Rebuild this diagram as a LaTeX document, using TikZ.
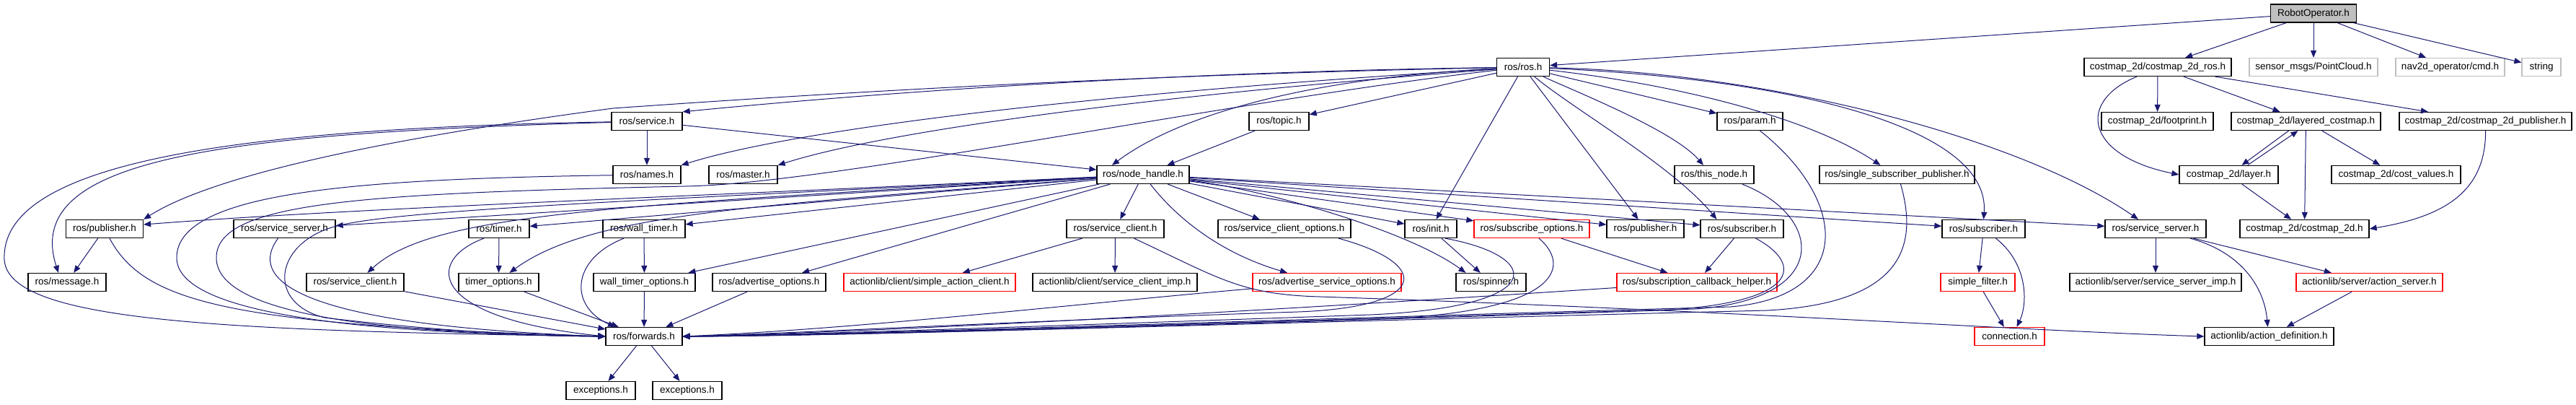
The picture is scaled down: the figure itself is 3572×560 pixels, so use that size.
\documentclass[tikz,border=0pt]{standalone}
\usepackage{fontspec}
\setmainfont{Liberation Sans}
\usetikzlibrary{arrows.meta}

\definecolor{edgeblue}{HTML}{191970}
\definecolor{boxgray}{HTML}{BFBFBF}

\tikzset{
  hdr/.style={draw=black, line width=1.3pt, minimum width=#1, minimum height=25pt,
    inner sep=0pt, font=\fontsize{13.5}{15}\selectfont},
  hdrred/.style={hdr=#1, draw=red},
  hdrgray/.style={hdr=#1, draw=boxgray},
  hdrmain/.style={hdr=#1, fill=boxgray},
  dep/.style={draw=edgeblue, line width=1pt, -{Triangle[length=10pt,width=8pt]}}
}

\begin{document}
\begin{tikzpicture}[x=1pt,y=-1pt]
\useasboundingbox (0,0) rectangle (3572,560);

% draw headers
\node[hdrmain=119pt] (ro) at (3208,18.6) {RobotOperator.h};

\node[hdr=73pt] (rosh) at (2112,93) {ros/ros.h};
\node[hdr=204pt] (cmros) at (2992,93) {costmap\_2d/costmap\_2d\_ros.h};
\node[hdrgray=178pt] (pcl) at (3208,93) {sensor\_msgs/PointCloud.h};
\node[hdrgray=151pt] (cmd) at (3397.5,93) {nav2d\_operator/cmd.h};
\node[hdrgray=54pt] (str) at (3524,93) {string};

\node[hdr=98pt] (service) at (897,168) {ros/service.h};
\node[hdr=83pt] (topic) at (1773.5,168) {ros/topic.h};
\node[hdr=91pt] (param) at (2426.5,168) {ros/param.h};
\node[hdr=155pt] (footprint) at (2991.5,168) {costmap\_2d/footprint.h};
\node[hdr=207pt] (layered) at (3197.5,168) {costmap\_2d/layered\_costmap.h};
\node[hdr=239pt] (cmpub) at (3446.5,168) {costmap\_2d/costmap\_2d\_publisher.h};

\node[hdr=94pt] (names) at (897,242) {ros/names.h};
\node[hdr=95pt] (master) at (1030.5,242) {ros/master.h};
\node[hdr=128pt] (nh) at (1585,242) {ros/node\_handle.h};
\node[hdr=110pt] (thisnode) at (2377,242) {ros/this\_node.h};
\node[hdr=215pt] (ssp) at (2630.5,242) {ros/single\_subscriber\_publisher.h};
\node[hdr=137pt] (layer) at (3090.5,242) {costmap\_2d/layer.h};
\node[hdr=179pt] (costval) at (3322.5,242) {costmap\_2d/cost\_values.h};

\node[hdr=107pt] (publ) at (145,317) {ros/publisher.h};
\node[hdr=141pt] (ssrvl) at (394.5,317) {ros/service\_server.h};
\node[hdr=84pt] (timer) at (692,317) {ros/timer.h};
\node[hdr=114pt] (wtimer) at (893,317) {ros/wall\_timer.h};
\node[hdr=135pt] (sclient) at (1546.5,317) {ros/service\_client.h};
\node[hdr=184pt] (scopts) at (1781,317) {ros/service\_client\_options.h};
\node[hdr=72pt] (init) at (1984,317) {ros/init.h};
\node[hdrred=160pt] (subopts) at (2124,317) {ros/subscribe\_options.h};
\node[hdr=107pt] (pubr) at (2281.5,317) {ros/publisher.h};
\node[hdr=115pt] (subr) at (2415.5,317) {ros/subscriber.h};
\node[hdr=115pt] (subr2) at (2750.5,317) {ros/subscriber.h};
\node[hdr=140pt] (ssrvr) at (2989,317) {ros/service\_server.h};
\node[hdr=179pt] (cm2d) at (3195.5,317) {costmap\_2d/costmap\_2d.h};

\node[hdr=108pt] (msg) at (93,391) {ros/message.h};
\node[hdr=135pt] (sclil) at (492.5,391) {ros/service\_client.h};
\node[hdr=111pt] (topts) at (691.5,391) {timer\_options.h};
\node[hdr=141pt] (wtopts) at (893.5,391) {wall\_timer\_options.h};
\node[hdr=157pt] (advopts) at (1066.5,391) {ros/advertise\_options.h};
\node[hdrred=238pt] (sac) at (1289,391) {actionlib/client/simple\_action\_client.h};
\node[hdr=228pt] (scimp) at (1546,391) {actionlib/client/service\_client\_imp.h};
\node[hdrred=206pt] (advsrv) at (1840,391) {ros/advertise\_service\_options.h};
\node[hdr=97pt] (spinner) at (2067.5,391) {ros/spinner.h};
\node[hdrred=222pt] (scbh) at (2353,391) {ros/subscription\_callback\_helper.h};
\node[hdrred=103pt] (sfilter) at (2742.5,391) {simple\_filter.h};
\node[hdr=238pt] (ssimp) at (2989,391) {actionlib/server/service\_server\_imp.h};
\node[hdrred=203pt] (actsrv) at (3285.5,391) {actionlib/server/action\_server.h};

\node[hdr=106pt] (fwd) at (893,466) {ros/forwards.h};
\node[hdrred=97pt] (conn) at (2786.5,466) {connection.h};
\node[hdr=179pt] (actdef) at (3146.5,466) {actionlib/action\_definition.h};

\node[hdr=96pt] (exc1) at (833,541) {exceptions.h};
\node[hdr=96pt] (exc2) at (953,541) {exceptions.h};

% RobotOperator.h and costmap side
\draw[dep] (ro) -- (rosh);
\draw[dep] (ro) -- (cmros);
\draw[dep] (ro) -- (pcl);
\draw[dep] (ro) -- (cmd);
\draw[dep] (ro) -- (str);
\draw[dep] (cmros) -- (footprint);
\draw[dep] (cmros) -- (layered);
\draw[dep] (cmros) -- (cmpub);
\draw[dep] ([xshift=-29pt]cmros.south) .. controls (2880,140) and (2890,215) .. (layer.west);
\draw[dep] ([xshift=-24pt]layered.south) -- ([xshift=18pt]layer.north);
\draw[dep] ([xshift=26pt]layer.north) -- ([xshift=-11pt]layered.south);
\draw[dep] (layered) -- (cm2d);
\draw[dep] (layered) -- (costval);
\draw[dep] (layer) -- (cm2d);
\draw[dep] (cmpub) .. controls (3447,265) and (3390,300) .. (cm2d.east);

% actionlib and filters
\draw[dep] (ssrvr) -- (ssimp);
\draw[dep] (ssrvr) -- (actsrv);
\draw[dep] ([xshift=48pt]ssrvr.south) .. controls (3110,350) and (3140,400) .. ([xshift=-2pt]actdef.north);
\draw[dep] (actsrv) -- (actdef);
\draw[dep] (subr2) -- (sfilter);
\draw[dep] ([xshift=17pt]subr2.south) .. controls (2812,365) and (2812,420) .. ([xshift=10pt]conn.north);
\draw[dep] (sfilter) -- (conn);
\draw[dep] (sclient) -- (sac);
\draw[dep] (sclient) -- (scimp);
\draw[dep] ([xshift=26pt]sclient.south) .. controls (1690,385) and (1720,408) .. (1830,411)
  .. controls (2400,430) and (2800,458) .. (actdef.west);

% ros/ros.h
\draw[dep] (rosh) .. controls (1600,100) and (1200,130) .. (service.north east);
\draw[dep] (rosh) .. controls (1500,130) and (1100,180) .. (names.north east);
\draw[dep] (rosh) .. controls (1500,140) and (1200,190) .. (master.north east);
\draw[dep] (rosh) .. controls (1500,105) and (1050,136) .. (850,150)
  .. controls (550,190) and (300,240) .. (publ.north east);
\draw[dep] (rosh) .. controls (1780,110) and (1620,170) .. ([xshift=-43pt]nh.north);
\draw[dep] (rosh) -- (topic);
\draw[dep] (rosh) -- (param);
\draw[dep] (rosh) .. controls (2180,125) and (2320,180) .. ([xshift=-15pt]thisnode.north);
\draw[dep] (rosh) .. controls (2350,120) and (2520,170) .. ([xshift=-23pt]ssp.north);
\draw[dep] (rosh) .. controls (2500,110) and (2760,180) .. (subr2.north);
\draw[dep] (rosh) .. controls (2450,100) and (2800,190) .. ([xshift=-24pt]ssrvr.north);
\draw[dep] (rosh) -- (init);
\draw[dep] (rosh) -- (pubr);
\draw[dep] (rosh) .. controls (2180,150) and (2320,230) .. ([xshift=-35pt]subr.north);
\draw[dep] (rosh) .. controls (1700,140) and (1150,255) .. (950,258)
  .. controls (500,268) and (300,280) .. (300,357) .. controls (300,440) and (550,462) .. (fwd.west);
\draw[dep] (topic) -- (nh);

% ros/service.h and ros/names.h
\draw[dep] (service) -- (names);
\draw[dep] (service) -- (nh);
\draw[dep] (service) .. controls (300,185) and (30,220) .. ([xshift=-12pt]msg.north);
\draw[dep] (service) .. controls (300,178) and (0,230) .. (6,360)
  .. controls (12,445) and (300,458) .. (fwd.west);
\draw[dep] (names) .. controls (500,248) and (245,265) .. (245,357)
  .. controls (245,435) and (500,462) .. (fwd.west);

% ros/node_handle.h
\draw[dep] (nh) .. controls (900,275) and (500,288) .. ([yshift=6pt]publ.east);
\draw[dep] (nh) -- (ssrvl);
\draw[dep] (nh) .. controls (850,285) and (600,295) .. ([xshift=17pt]sclil.north);
\draw[dep] (nh) -- (timer);
\draw[dep] (nh) .. controls (1050,285) and (820,295) .. ([xshift=15pt]topts.north);
\draw[dep] (nh) -- (wtimer);
\draw[dep] (nh) -- (wtopts);
\draw[dep] (nh) -- (advopts);
\draw[dep] (nh) .. controls (900,278) and (540,290) .. (460,315)
  .. controls (380,340) and (370,420) .. (450,440) .. controls (600,458) and (750,466) .. (fwd.west);
\draw[dep] (nh) -- (sclient);
\draw[dep] (nh) -- (scopts);
\draw[dep] (nh) .. controls (1630,300) and (1690,350) .. ([xshift=-55pt]advsrv.north);
\draw[dep] (nh) -- (init);
\draw[dep] (nh) .. controls (1750,262) and (1950,318) .. ([xshift=-35pt]spinner.north);
\draw[dep] (nh) -- (subopts);
\draw[dep] (nh) -- (pubr);
\draw[dep] (nh) -- (subr);
\draw[dep] (nh) -- (subr2);
\draw[dep] (nh) -- (ssrvr);

% left side into ros/forwards.h
\draw[dep] (publ) -- (msg);
\draw[dep] (publ) .. controls (200,420) and (320,450) .. (fwd.west);
\draw[dep] ([xshift=-9pt]ssrvl.south) .. controls (345,385) and (400,450) .. (fwd.west);
\draw[dep] (sclil) -- (fwd);
\draw[dep] (timer) -- (topts);
\draw[dep] ([xshift=-21pt]timer.south) .. controls (590,360) and (590,440) .. (fwd.west);
\draw[dep] (topts) -- (fwd);
\draw[dep] (wtimer) -- (wtopts);
\draw[dep] ([xshift=-28pt]wtimer.south) .. controls (790,360) and (790,425) .. ([xshift=-40pt]fwd.north);
\draw[dep] (wtopts) -- (fwd);
\draw[dep] (advopts) -- (fwd);

% right side into ros/forwards.h
\draw[dep] ([xshift=75pt]scopts.south) .. controls (1985,365) and (1985,425) .. (1800,432)
  .. controls (1400,445) and (1100,462) .. (fwd.east);
\draw[dep] (advsrv) .. controls (1500,420) and (1200,455) .. (fwd.east);
\draw[dep] (init) -- (spinner);
\draw[dep] ([xshift=20pt]init.south) .. controls (2140,355) and (2150,425) .. (1900,436)
  .. controls (1500,450) and (1100,464) .. (fwd.east);
\draw[dep] (subopts) -- (scbh);
\draw[dep] ([xshift=10pt]subopts.south) .. controls (2175,365) and (2170,425) .. (1950,440)
  .. controls (1550,452) and (1100,466) .. (fwd.east);
\draw[dep] (subr) -- (scbh);
\draw[dep] ([xshift=19pt]subr.south) .. controls (2500,365) and (2500,420) .. (2300,430)
  .. controls (1800,446) and (1200,465) .. (fwd.east);
\draw[dep] (scbh) .. controls (1950,418) and (1300,458) .. (fwd.east);
\draw[dep] ([xshift=39pt]thisnode.south) .. controls (2530,300) and (2540,415) .. (2350,428)
  .. controls (1800,444) and (1200,464) .. (fwd.east);
\draw[dep] ([xshift=14pt]param.south) .. controls (2565,280) and (2570,410) .. (2400,425)
  .. controls (1800,442) and (1200,463) .. (fwd.east);
\draw[dep] ([xshift=5pt]ssp.south) .. controls (2660,340) and (2640,420) .. (2450,430)
  .. controls (1800,446) and (1200,465) .. (fwd.east);

% ros/forwards.h
\draw[dep] (fwd) -- (exc1);
\draw[dep] (fwd) -- (exc2);

\end{tikzpicture}
\end{document}
